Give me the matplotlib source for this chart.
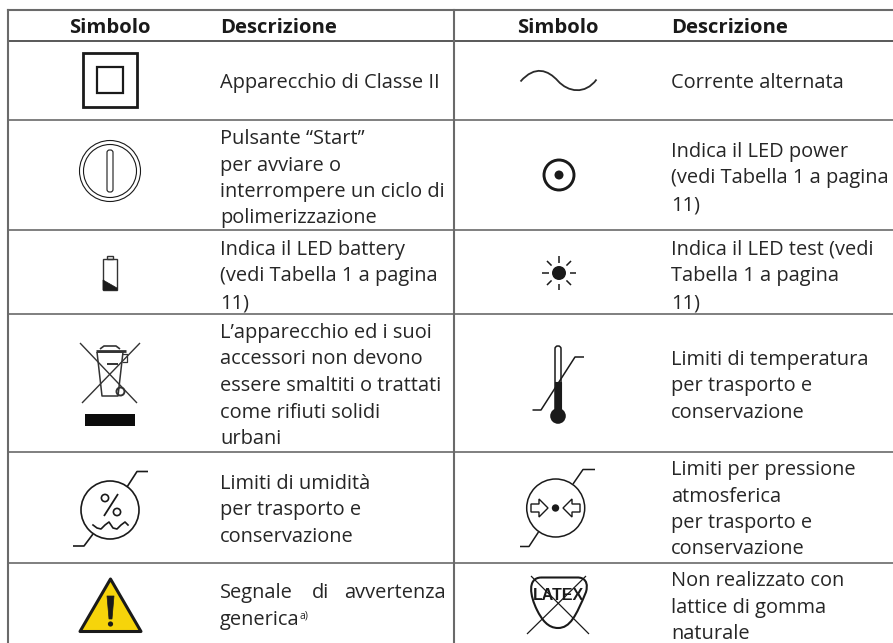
# Tabella dei simboli - ricreata con matplotlib
import numpy as np
import matplotlib
matplotlib.use("Agg")
import matplotlib.pyplot as plt
from matplotlib.patches import Circle, Polygon, Rectangle, FancyBboxPatch, PathPatch
from matplotlib.path import Path

plt.rcParams['font.family'] = ['Open Sans', 'DejaVu Sans']

# ---------- DATA ----------
headers_symbol = ["Simbolo", "Simbolo"]
headers_desc = ["Descrizione", "Descrizione"]

left_desc = [
    ["Apparecchio di Classe II"],
    ["Pulsante “Start”", "per avviare o", "interrompere un ciclo di", "polimerizzazione"],
    ["Indica il LED battery", "(vedi Tabella 1 a pagina", "11)"],
    ["L’apparecchio ed i suoi", "accessori non devono", "essere smaltiti o trattati", "come rifiuti solidi", "urbani"],
    ["Limiti di umidità", "per trasporto e", "conservazione"],
]
left_first_y = [88, 144, 255, 338, 489]

right_desc = [
    ["Corrente alternata"],
    ["Indica il LED power", "(vedi Tabella 1 a pagina", "11)"],
    ["Indica il LED test (vedi", "Tabella 1 a pagina", "11)"],
    ["Limiti di temperatura", "per trasporto e", "conservazione"],
    ["Limiti per pressione", "atmosferica", "per trasporto e", "conservazione"],
    ["Non realizzato con", "lattice di gomma", "naturale"],
]
right_first_y = [88, 157, 255, 365, 475, 586]

justified_words = ["Segnale", "di", "avvertenza"]
justified_second = "generica"
footnote_mark = "a)"

row_lines = [40.5, 119.5, 230, 314, 452, 562.5]
line_height = 26.5

INK = "#1a1a1a"
TEXT = "#262626"
RULE = "#6a6a6a"

fig = plt.figure(figsize=(8.93, 6.43), dpi=100)
ax = fig.add_axes([0, 0, 1, 1])
ax.set_xlim(0, 893)
ax.set_ylim(643, 0)
ax.axis("off")

FS = 14.4
FS_HEAD = 14.6
X_LEFT = 220
X_RIGHT = 671


def seg(pts, lw=1.2, color=INK):
    pts = np.array(pts)
    ax.plot(pts[:, 0], pts[:, 1], color=color, lw=lw, solid_capstyle="butt", solid_joinstyle="round")


def circ(x, y, r, lw=1.0, fc="none", ec=INK):
    ax.add_patch(Circle((x, y), r, fc=fc, ec=ec, lw=lw))


# ---------- GRID ----------
ax.plot([8, 893], [10, 10], color=RULE, lw=1.5)
for i, y in enumerate(row_lines):
    ax.plot([8, 893], [y, y], color="#3c3c3c" if i == 0 else RULE, lw=1.2)
ax.plot([8, 8], [10, 643], color=RULE, lw=1.5)
ax.plot([453.5, 453.5], [10, 643], color=RULE, lw=1.5)

# ---------- TEXT ----------
for cx, label in zip([110, 557.5], headers_symbol):
    ax.text(cx, 33, label, ha="center", va="baseline", fontsize=FS_HEAD, fontweight="bold", color=INK)
for tx, label in zip([X_LEFT, X_RIGHT], headers_desc):
    ax.text(tx, 33, label, ha="left", va="baseline", fontsize=FS_HEAD, fontweight="bold", color=INK)

for lines, y0 in zip(left_desc, left_first_y):
    for k, line in enumerate(lines):
        ax.text(X_LEFT, y0 + k * line_height, line, ha="left", va="baseline", fontsize=FS, color=TEXT)
for lines, y0 in zip(right_desc, right_first_y):
    for k, line in enumerate(lines):
        ax.text(X_RIGHT, y0 + k * line_height, line, ha="left", va="baseline", fontsize=FS, color=TEXT)

ax.text(X_LEFT, 598, justified_words[0], ha="left", va="baseline", fontsize=FS, color=TEXT)
ax.text(312, 598, justified_words[1], ha="left", va="baseline", fontsize=FS, color=TEXT)
ax.text(446, 598, justified_words[2], ha="right", va="baseline", fontsize=FS, color=TEXT)
ax.text(X_LEFT, 625, justified_second, ha="left", va="baseline", fontsize=FS, color=TEXT)
ax.text(299, 619, footnote_mark, ha="left", va="baseline", fontsize=7.5, color=TEXT)

# ---------- SYMBOLS ----------
# classe II
ax.add_patch(Rectangle((83, 53), 54, 54, fc="none", ec=INK, lw=2.0))
ax.add_patch(Rectangle((97, 67), 26, 26, fc="none", ec=INK, lw=1.6))

# pulsante start
circ(110, 171, 30.5, lw=0.8)
circ(110, 171, 26.5, lw=0.8)
ax.add_patch(FancyBboxPatch((107, 150), 6, 42, boxstyle="round,pad=0,rounding_size=2.5",
                            fc="none", ec=INK, lw=0.8))

# batteria
ax.add_patch(Rectangle((103, 259), 14, 31, fc="none", ec="#333333", lw=1.0))
ax.add_patch(Rectangle((107, 255.5), 6, 3.5, fc="none", ec="#333333", lw=1.0))
ax.add_patch(Polygon([(103, 280), (117, 288), (117, 290), (103, 290)], fc=INK, ec=INK, lw=0.5))

# RAEE
bin_col = "#333333"
seg([(80, 343), (137, 403)], lw=1.0, color=bin_col)
seg([(140, 343), (82, 403)], lw=1.0, color=bin_col)
seg([(97, 352), (102, 396), (118, 396), (123, 352), (97, 352)], lw=1.1, color=bin_col)
seg([(96, 351), (126, 351)], lw=2.0, color=bin_col)
seg([(100, 349), (104, 346), (116, 346), (120, 349)], lw=1.2, color=bin_col)
seg([(122, 354), (127, 354), (127, 362), (122, 362)], lw=0.9, color=bin_col)
seg([(107, 364), (118, 364)], lw=1.4, color=bin_col)
circ(120.5, 391.5, 4, lw=1.4, ec=bin_col)
ax.add_patch(Rectangle((85, 414), 50, 12, fc="#0c0c0c", ec="none"))

# umidita
circ(110, 510, 29, lw=1.2)
seg([(127, 487), (137, 471.5), (148, 471.5)], lw=1.2)
seg([(93, 534), (84, 546), (73, 546)], lw=1.2)
circ(105, 498, 3.6, lw=1.2)
circ(117, 512, 3.6, lw=1.2)
seg([(118, 494), (104, 516)], lw=1.3)
wave_x = [93, 97, 101, 105, 109, 113, 117, 121, 125, 128]
wave_y = [525, 528, 529, 525, 522, 528, 529, 525, 522, 525]
ax.plot(wave_x, wave_y, color=INK, lw=1.2)

# avvertenza
ax.add_patch(Polygon([(110.5, 579), (80, 631.5), (141, 631.5)], fc="#f6d40b", ec=INK, lw=2.2, joinstyle="round"))
ax.add_patch(Polygon([(107, 596), (114, 596), (112, 619), (109, 619)], fc=INK, ec=INK, lw=0.5, joinstyle="round"))
circ(110.5, 624, 2.6, lw=0, fc=INK)

# corrente alternata
sine = Path([(520.5, 81.5), (535, 65), (548, 70), (558, 81), (568, 92), (585, 95), (596.5, 79.5)],
            [Path.MOVETO] + [Path.CURVE4] * 6)
ax.add_patch(PathPatch(sine, fc="none", ec="#2a2a2a", lw=1.3))

# LED power
circ(559, 175, 15, lw=2.1)
circ(559, 175, 4.5, lw=0, fc=INK)

# LED test
circ(559, 273, 7, lw=0, fc=INK)
for ang in np.arange(0, 360, 45):
    c, s = np.cos(np.radians(ang)), np.sin(np.radians(ang))
    seg([(559 + 10.5 * c, 273 + 10.5 * s), (559 + 17 * c, 273 + 17 * s)], lw=1.1)

# temperatura
ax.add_patch(FancyBboxPatch((555, 346), 6, 66, boxstyle="round,pad=0,rounding_size=2.8",
                            fc="white", ec=INK, lw=1.1))
ax.add_patch(Rectangle((555, 382), 6, 30, fc=INK, ec=INK, lw=0.8))
circ(558, 416, 7.8, lw=0, fc=INK)
seg([(532.5, 410), (541, 410), (575, 357), (584, 357)], lw=1.1)

# pressione
circ(555.7, 508, 29, lw=1.1)
seg([(573, 484), (583, 469.5), (595, 469.5)], lw=1.1)
seg([(538.5, 532), (529, 546.5), (520, 546.5)], lw=1.1)
circ(555.5, 508, 3.7, lw=0, fc=INK)
arrow_left = [(531, 504), (539, 504), (539, 499), (548, 508), (539, 517), (539, 512), (531, 512)]
arrow_right = [(580, 504), (572, 504), (572, 499), (563, 508), (572, 517), (572, 512), (580, 512)]
ax.add_patch(Polygon(arrow_left, fc="white", ec=INK, lw=1.0))
ax.add_patch(Polygon(arrow_right, fc="white", ec=INK, lw=1.0))

# lattice
tri_pts = [(541, 577.5), (578, 577.5),
           (578, 577.5), (590, 577), (586, 592),
           (576, 616), (570, 628), (558, 628),
           (548, 628), (542, 620), (537, 610),
           (530, 596), (527, 578), (541, 577.5)]
tri_codes = [Path.MOVETO, Path.LINETO] + [Path.CURVE4] * 12
ax.add_patch(PathPatch(Path(tri_pts, tri_codes), fc="none", ec=INK, lw=1.5))
ax.text(558.5, 600, "LATEX", ha="center", va="baseline", fontsize=11.5, color=INK,
        fontweight="bold", family=["Liberation Sans Narrow", "Liberation Sans"])
seg([(531, 576), (589, 634)], lw=0.9)
seg([(586, 576), (527, 634)], lw=0.9)

fig.savefig("out.png", dpi=100)
